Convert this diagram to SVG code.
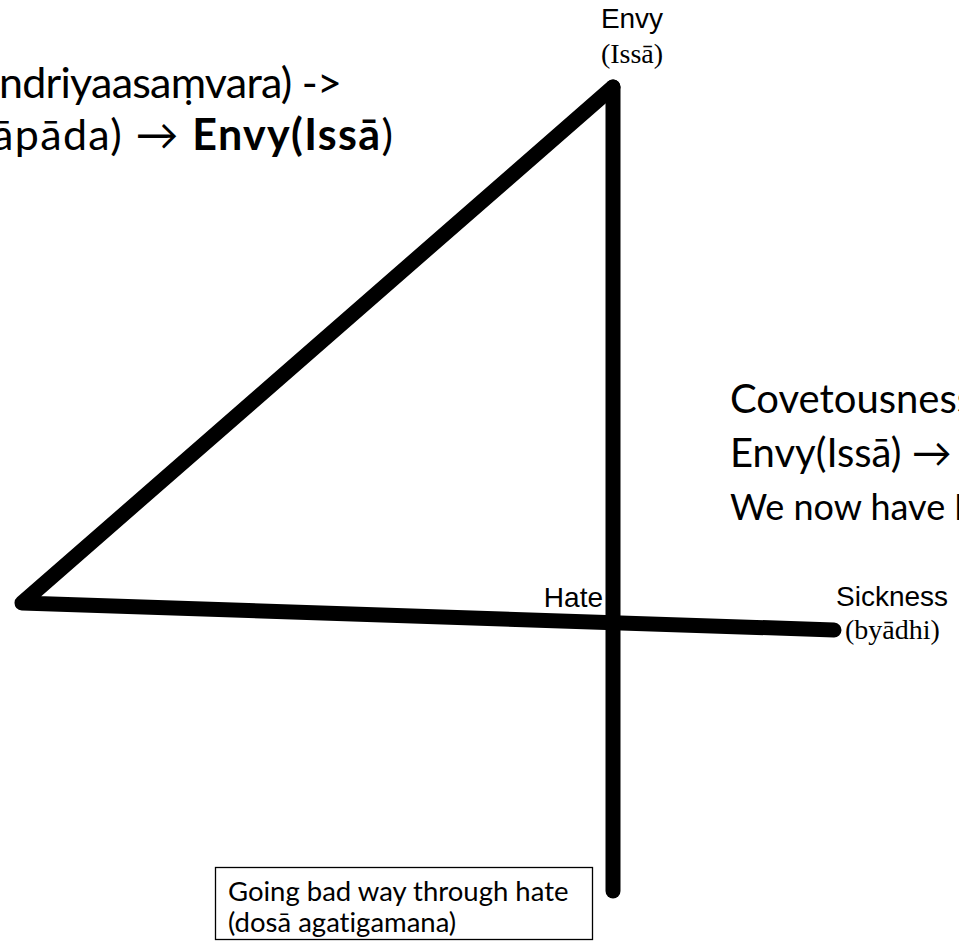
<svg xmlns="http://www.w3.org/2000/svg" width="959" height="942" viewBox="0 0 959 942">
<style>
.ln{stroke:#000;stroke-width:15;stroke-linecap:round;stroke-linejoin:round;fill:none}
.cal{font-family:Lato,"Open Sans",sans-serif;fill:#000;font-variant-ligatures:none}
.ar{font-family:"Liberation Sans",Arial,sans-serif;fill:#000}
.tm{font-family:"Liberation Serif","Times New Roman",serif;fill:#000}
</style>
<rect width="959" height="942" fill="#fff"/>
<g id="connectors">
<path class="ln" d="M613,87 L22,603 L834,630"/>
<path class="ln" d="M613,87 L613,891"/>
</g>
<g id="text-top">
<text class="cal" font-size="43" x="-1" y="98" textLength="343">ndriyaasaṃvara) -&gt;</text>
<text class="cal" font-size="43" x="-8" y="150" textLength="401">āpāda) → <tspan font-weight="bold">Envy(Issā</tspan>)</text>
</g>
<g id="node-envy">
<text class="ar" font-size="28" x="632" y="28" text-anchor="middle">Envy</text>
<text class="tm" font-size="28" x="632" y="63" text-anchor="middle">(Issā)</text>
</g>
<g id="text-right">
<text class="cal" font-size="40" x="730" y="413">Covetousness</text>
<text class="cal" font-size="40" x="730" y="467">Envy(Issā) →</text>
<text class="cal" font-size="36" x="730" y="520">We now have <tspan font-weight="bold">H</tspan></text>
</g>
<g id="node-hate">
<text class="ar" font-size="28" x="603" y="607" text-anchor="end">Hate</text>
</g>
<g id="node-sickness">
<text class="ar" font-size="28" x="836" y="606">Sickness</text>
<text class="tm" font-size="28" x="845" y="639">(byādhi)</text>
</g>
<g id="node-going">
<rect x="215.5" y="867.5" width="377" height="72" fill="#fff" stroke="#000" stroke-width="1.3"/>
<text class="cal" font-size="27.5" x="228" y="901">Going bad way through hate</text>
<text class="cal" font-size="27.5" x="228" y="932">(dosā agatigamana)</text>
</g>
</svg>
